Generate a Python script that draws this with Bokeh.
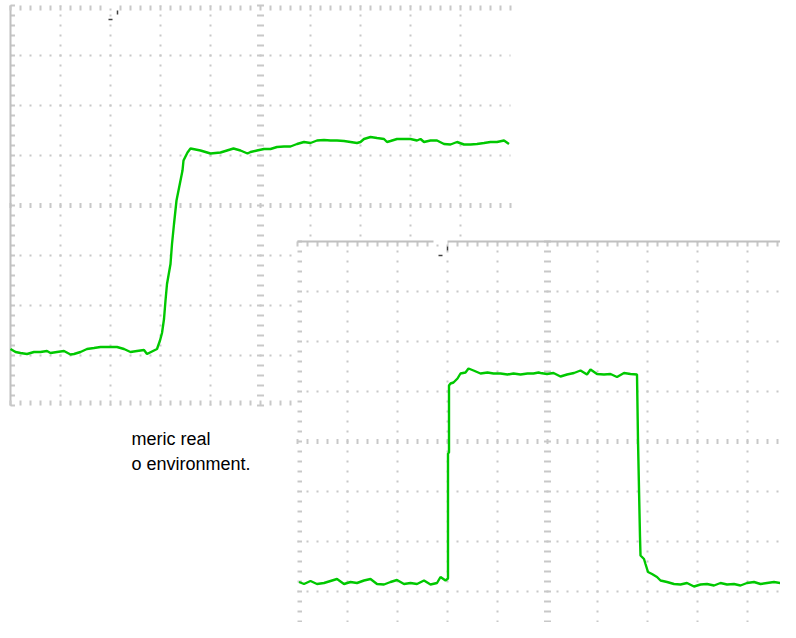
import numpy as np
from bokeh.plotting import figure
from bokeh.models import Range1d, Label
from bokeh.embed import file_html
from bokeh.resources import INLINE

# ---------------- data (screen divisions: time 0..10 div, level -4..4 div) ----------------
top_time = [0.00, 0.10, 0.20, 0.33, 0.47, 0.60, 0.73, 0.80, 0.93, 1.07, 1.20, 1.27, 1.40, 1.53,
            1.67, 1.80, 1.93, 2.07, 2.13, 2.27, 2.40, 2.53, 2.67, 2.73, 2.87, 2.93, 2.99, 3.03,
            3.07, 3.10, 3.13, 3.20, 3.23, 3.27, 3.32, 3.40, 3.44, 3.46, 3.54, 3.60, 3.80, 4.00,
            4.20, 4.46, 4.60, 4.74, 4.80, 4.93, 5.07, 5.20, 5.33, 5.47, 5.60, 5.73, 5.87, 6.00,
            6.13, 6.27, 6.40, 6.53, 6.67, 6.80, 6.93, 7.00, 7.07, 7.20, 7.33, 7.47, 7.53, 7.60,
            7.73, 7.87, 8.00, 8.13, 8.20, 8.27, 8.40, 8.53, 8.67, 8.80, 8.93, 9.07, 9.20, 9.33,
            9.47, 9.60, 9.73, 9.87, 9.97]
top_level = [-2.87, -2.93, -2.95, -2.97, -2.93, -2.93, -2.91, -2.95, -2.93, -2.91, -2.98, -2.97,
             -2.93, -2.87, -2.85, -2.83, -2.83, -2.83, -2.83, -2.87, -2.93, -2.91, -2.89, -2.97,
             -2.90, -2.87, -2.70, -2.55, -2.27, -1.90, -1.57, -1.17, -0.77, -0.37, 0.10, 0.50,
             0.70, 0.90, 1.06, 1.14, 1.10, 1.04, 1.06, 1.14, 1.10, 1.04, 1.07, 1.10, 1.13, 1.13,
             1.17, 1.18, 1.18, 1.23, 1.27, 1.25, 1.30, 1.31, 1.30, 1.30, 1.29, 1.27, 1.25, 1.27,
             1.33, 1.37, 1.35, 1.33, 1.27, 1.29, 1.33, 1.33, 1.33, 1.30, 1.33, 1.27, 1.30, 1.30,
             1.23, 1.22, 1.27, 1.22, 1.22, 1.23, 1.25, 1.27, 1.27, 1.30, 1.23]

bottom_time = [0.03, 0.13, 0.26, 0.39, 0.53, 0.66, 0.79, 0.93, 1.06, 1.19, 1.33, 1.46, 1.59, 1.73,
               1.86, 1.99, 2.13, 2.26, 2.39, 2.53, 2.66, 2.79, 2.86, 2.96, 3.01, 3.01, 3.03, 3.03,
               3.06, 3.12, 3.20, 3.26, 3.36, 3.42, 3.52, 3.66, 3.80, 3.92, 4.06, 4.20, 4.32, 4.46,
               4.60, 4.72, 4.82, 4.86, 4.99, 5.12, 5.26, 5.39, 5.53, 5.66, 5.79, 5.86, 5.99, 6.13,
               6.26, 6.39, 6.53, 6.66, 6.79, 6.81, 6.85, 6.86, 6.93, 6.96, 7.01, 7.09, 7.19, 7.26,
               7.39, 7.53, 7.66, 7.79, 7.93, 8.06, 8.19, 8.33, 8.46, 8.59, 8.73, 8.86, 8.99, 9.13,
               9.26, 9.39, 9.53, 9.66, 9.79, 9.93]
bottom_level = [-2.81, -2.85, -2.79, -2.85, -2.83, -2.79, -2.75, -2.85, -2.81, -2.83, -2.78, -2.75,
                -2.85, -2.86, -2.81, -2.77, -2.85, -2.83, -2.85, -2.78, -2.86, -2.83, -2.71, -2.78,
                -2.74, -0.24, -0.22, 1.12, 1.16, 1.18, 1.26, 1.36, 1.38, 1.46, 1.42, 1.36, 1.38,
                1.36, 1.36, 1.34, 1.36, 1.34, 1.36, 1.36, 1.38, 1.37, 1.35, 1.37, 1.30, 1.34, 1.37,
                1.42, 1.34, 1.44, 1.35, 1.34, 1.35, 1.29, 1.37, 1.35, 1.34, 0.02, -1.91, -2.28,
                -2.35, -2.45, -2.61, -2.65, -2.71, -2.78, -2.81, -2.85, -2.86, -2.83, -2.90, -2.86,
                -2.85, -2.88, -2.83, -2.86, -2.85, -2.88, -2.83, -2.81, -2.85, -2.83, -2.81, -2.83,
                -2.81, -2.78]

top_trigger_time = 2.14
bottom_trigger_time = 3.0
text_lines = ["meric real", "o environment."]

# ---------------- styling ----------------
GRID = "#c8c8c8"
EDGE = "#c0c0c0"
TRACE = "#00c800"
MARK = "#404040"

p = figure(width=780, height=622, x_range=Range1d(0, 780), y_range=Range1d(622, 0),
           output_backend="svg", toolbar_location=None, min_border=0,
           x_axis_location=None, y_axis_location=None, outline_line_color=None,
           background_fill_color="white", border_fill_color="white")
p.grid.visible = False

# panel coordinate systems (50 px per division)
p.extra_x_ranges = {"t1": Range1d(-0.2, 15.4), "t2": Range1d(-5.94, 9.66)}
p.extra_y_ranges = {"v1": Range1d(-8.34, 4.1), "v2": Range1d(-3.62, 8.82)}

fine_v = np.round(np.arange(-4, 4.001, 0.2), 2)
fine_t = np.round(np.arange(0, 10.001, 0.2), 2)
major_t = [t for t in range(1, 10) if t != 5]
major_v = [v for v in range(-3, 4) if v != 0]


def scope(xr, yr, top_solid, left_solid):
    kw = dict(x_range_name=xr, y_range_name=yr)
    # dotted major grid
    p.segment(x0=major_t, y0=-4, x1=major_t, y1=4, line_color=GRID, line_width=2,
              line_dash="2 8", line_dash_offset=1, **kw)
    p.segment(x0=0, y0=major_v, x1=10, y1=major_v, line_color=GRID, line_width=2,
              line_dash="2 8", line_dash_offset=1, **kw)
    # center axes with minor ticks
    p.segment(x0=4.93, y0=fine_v, x1=5.07, y1=fine_v, line_color=GRID, line_width=2, **kw)
    p.segment(x0=fine_t, y0=-0.05, x1=fine_t, y1=0.05, line_color=GRID, line_width=2, **kw)
    # left edge ticks
    p.segment(x0=0, y0=fine_v, x1=0.09, y1=fine_v, line_color=GRID, line_width=2, **kw)
    if left_solid:
        p.segment(x0=0, y0=-4, x1=0, y1=4, line_color=EDGE, line_width=2, **kw)
    # top edge ticks
    p.segment(x0=fine_t, y0=4, x1=fine_t, y1=3.9, line_color=GRID, line_width=2, **kw)
    if top_solid:
        p.segment(x0=0, y0=4, x1=10, y1=4, line_color=EDGE, line_width=2, **kw)
    # bottom edge ticks
    p.segment(x0=fine_t, y0=-4, x1=fine_t, y1=-3.9, line_color=GRID, line_width=2, **kw)


def trigger(xr, yr, t):
    kw = dict(x_range_name=xr, y_range_name=yr)
    p.quad(left=t - 0.28, right=t, bottom=3.94, top=4.06, fill_color="white", line_color=None, **kw)
    p.segment(x0=t, y0=3.9, x1=t, y1=3.82, line_color=MARK, line_width=1.5, **kw)
    p.segment(x0=t - 0.18, y0=3.72, x1=t - 0.1, y1=3.72, line_color=MARK, line_width=1.5, **kw)


# ---- upper (rising edge) screen ----
scope("t1", "v1", top_solid=False, left_solid=True)
trigger("t1", "v1", top_trigger_time)
p.line(top_time, top_level, line_color=TRACE, line_width=2.4, x_range_name="t1", y_range_name="v1")

# ---- lower (pulse) screen, drawn on top ----
p.quad(left=0, right=10, bottom=-4, top=4, fill_color="white", line_color=None,
       x_range_name="t2", y_range_name="v2")
scope("t2", "v2", top_solid=True, left_solid=False)
trigger("t2", "v2", bottom_trigger_time)
p.line(bottom_time, bottom_level, line_color=TRACE, line_width=2.4, x_range_name="t2", y_range_name="v2")

# ---- fragment of surrounding document text ----
for i, line in enumerate(text_lines):
    p.add_layout(Label(x=131, y=438 + 25 * i, text=line, text_font="Liberation Sans",
                       text_font_size="18px", text_color="black", text_baseline="alphabetic"))

open("out.html", "w").write(file_html(p, INLINE))
